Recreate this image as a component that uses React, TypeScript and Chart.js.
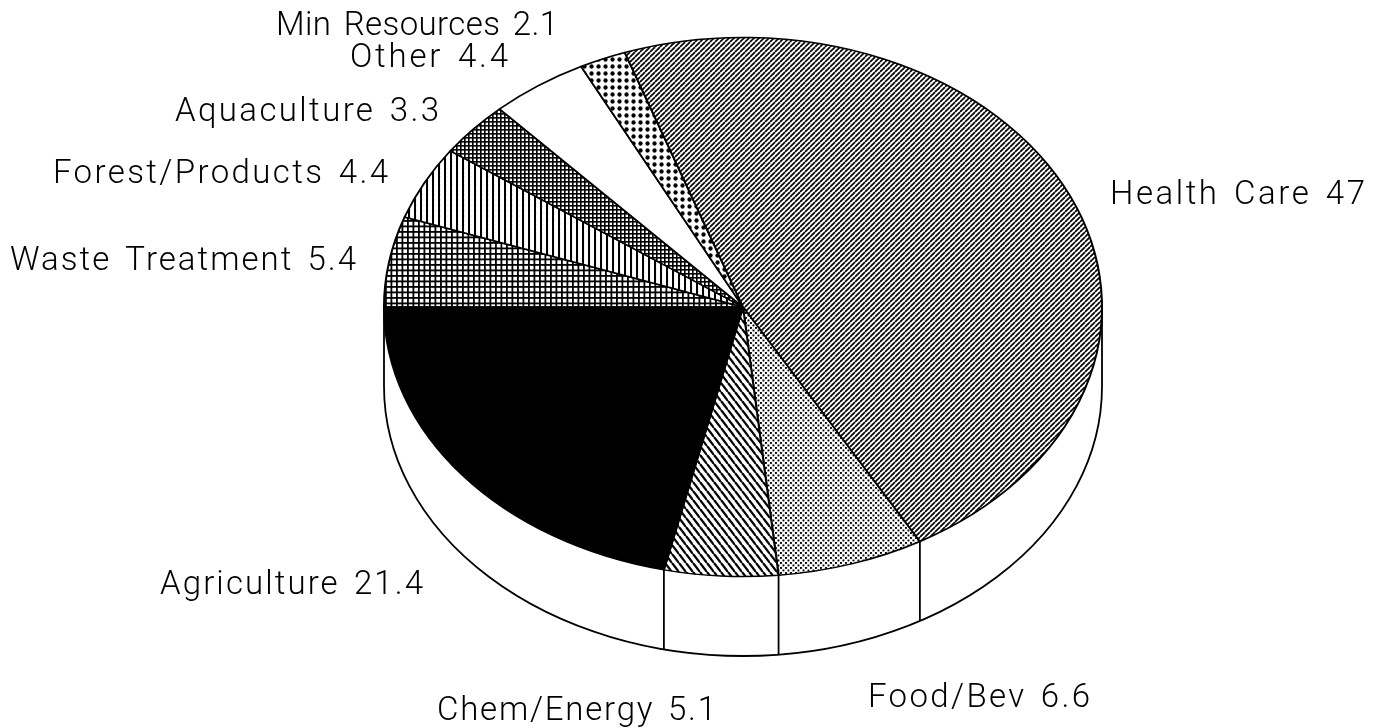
import React, { useEffect, useRef } from "react";
import { Chart, registerables } from "chart.js";

Chart.register(...registerables);

// Slices in clockwise order, starting at 9 o'clock
const categories = ["Waste Treatment", "Forest/Products", "Aquaculture", "Other", "Min Resources", "Health Care", "Food/Bev", "Chem/Energy", "Agriculture"];
const values = [5.4, 4.4, 3.3, 4.4, 2.1, 47, 6.6, 5.1, 21.4];
const labelLeft = [10, 53, 175, 350, 276, 1110, 868, 437, 160];
const labelRight = [356, 388, 439, 508, 558, 1365, 1090, 716, 423];
const labelBase = [270, 183, 121, 67, 35, 204, 707, 720, 594];

const CX = 743;
const CY = 307;
const RX = 359;
const RY = 269.5;
const K = RY / RX;
const DEPTH = 79.5;
const W = 1380;
const H = 728;

function tile(w: number, h: number, draw: (c: CanvasRenderingContext2D) => void, ctx: CanvasRenderingContext2D) {
  const cv = document.createElement("canvas");
  cv.width = w;
  cv.height = h;
  const c = cv.getContext("2d")!;
  c.fillStyle = "#fff";
  c.fillRect(0, 0, w, h);
  c.fillStyle = "#000";
  c.strokeStyle = "#000";
  draw(c);
  const p = ctx.createPattern(cv, "repeat")!;
  // cancel the pie's vertical squash so the tiles stay undistorted
  const off = CY * (1 - K);
  const t = Math.round(off) - off;
  p.setTransform(new DOMMatrix([1, 0, 0, 1 / K, 0, t / K]));
  return p;
}

function diag(c: CanvasRenderingContext2D, w: number, h: number, lw: number, rising: boolean) {
  c.lineWidth = lw;
  for (let i = -1; i <= 1; i++) {
    c.beginPath();
    if (rising) {
      c.moveTo(i * w, h);
      c.lineTo(i * w + w, 0);
    } else {
      c.moveTo(i * w, 0);
      c.lineTo(i * w + w, h);
    }
    c.stroke();
  }
}

function dot(c: CanvasRenderingContext2D, x: number, y: number, r: number) {
  c.beginPath();
  c.arc(x, y, r, 0, Math.PI * 2);
  c.fill();
}

function makeFills(ctx: CanvasRenderingContext2D) {
  return [
    tile(11, 11, (c) => { c.fillRect(0, 0, 1.8, 11); c.fillRect(5.5, 0, 1.8, 11); c.fillRect(0, 0, 11, 1.8); c.fillRect(0, 5.5, 11, 1.8); }, ctx),
    tile(6, 6, (c) => { c.fillRect(0, 0, 2, 6); }, ctx),
    tile(4, 4, (c) => { c.fillRect(0, 0, 4, 1.6); c.fillRect(0, 0, 1.6, 4); }, ctx),
    "#ffffff",
    tile(7, 7, (c) => dot(c, 3.5, 3.5, 2.15), ctx),
    tile(5, 5, (c) => diag(c, 5, 5, 1.7, true), ctx),
    tile(5, 5, (c) => { c.fillRect(0, 0, 1.9, 1.9); c.fillRect(2.5, 2.5, 1.9, 1.9); }, ctx),
    tile(7, 9, (c) => diag(c, 7, 9, 2.3, false), ctx),
    "#000000",
  ];
}

const piePlugin = {
  id: "tiltedPie",
  beforeDatasetsDraw(chart: any) {
    const { ctx } = chart;
    const arcs = chart.getDatasetMeta(0).data;
    const { x, y, outerRadius: r } = arcs[0];
    const ry = r * K;
    ctx.save();
    ctx.strokeStyle = "#000";
    ctx.lineWidth = 1.8;
    ctx.beginPath();
    ctx.moveTo(x + r, y);
    ctx.lineTo(x + r, y + DEPTH);
    ctx.ellipse(x, y + DEPTH, r, ry, 0, 0, Math.PI);
    ctx.lineTo(x - r, y);
    ctx.stroke();
    for (const a of arcs) {
      const s = Math.sin(a.endAngle);
      if (s > 0.02) {
        const px = x + r * Math.cos(a.endAngle);
        const py = y + ry * s;
        ctx.beginPath();
        ctx.moveTo(px, py);
        ctx.lineTo(px, py + DEPTH);
        ctx.stroke();
      }
    }
    ctx.restore();
    ctx.save();
    ctx.translate(x, y);
    ctx.scale(1, K);
    ctx.translate(-x, -y);
  },
  afterDatasetsDraw(chart: any) {
    const { ctx } = chart;
    ctx.restore();
    ctx.save();
    ctx.fillStyle = "#000";
    ctx.font = '300 33px Roboto';
    ctx.textAlign = "left";
    ctx.textBaseline = "alphabetic";
    (ctx as any).wordSpacing = "4px";
    categories.forEach((name, i) => {
      const text = `${name} ${values[i]}`;
      (ctx as any).letterSpacing = "0px";
      const natural = ctx.measureText(text).width;
      const spacing = (labelRight[i] - labelLeft[i] - natural) / (text.length - 1);
      (ctx as any).letterSpacing = `${spacing}px`;
      ctx.fillText(text, labelLeft[i], labelBase[i]);
    });
    ctx.restore();
  },
};

export default function App() {
  const ref = useRef<HTMLCanvasElement>(null);
  useEffect(() => {
    const canvas = ref.current!;
    const ctx = canvas.getContext("2d")!;
    const chart = new Chart(canvas, {
      type: "pie",
      data: {
        labels: categories,
        datasets: [{
          data: values,
          backgroundColor: makeFills(ctx) as any,
          borderColor: "#000",
          borderWidth: 2,
          clip: false as any,
        }],
      },
      options: {
        responsive: false,
        animation: false,
        rotation: -90,
        radius: RX,
        layout: { padding: { left: 2 * CX - W, bottom: H - 2 * CY } },
        plugins: { legend: { display: false }, tooltip: { enabled: false } },
      } as any,
      plugins: [piePlugin],
    });
    return () => chart.destroy();
  }, []);
  return (
    <div style={{ position: "absolute", left: 0, top: 0, background: "#fff" }}>
      <canvas ref={ref} width={W} height={H} style={{ display: "block" }} />
    </div>
  );
}
